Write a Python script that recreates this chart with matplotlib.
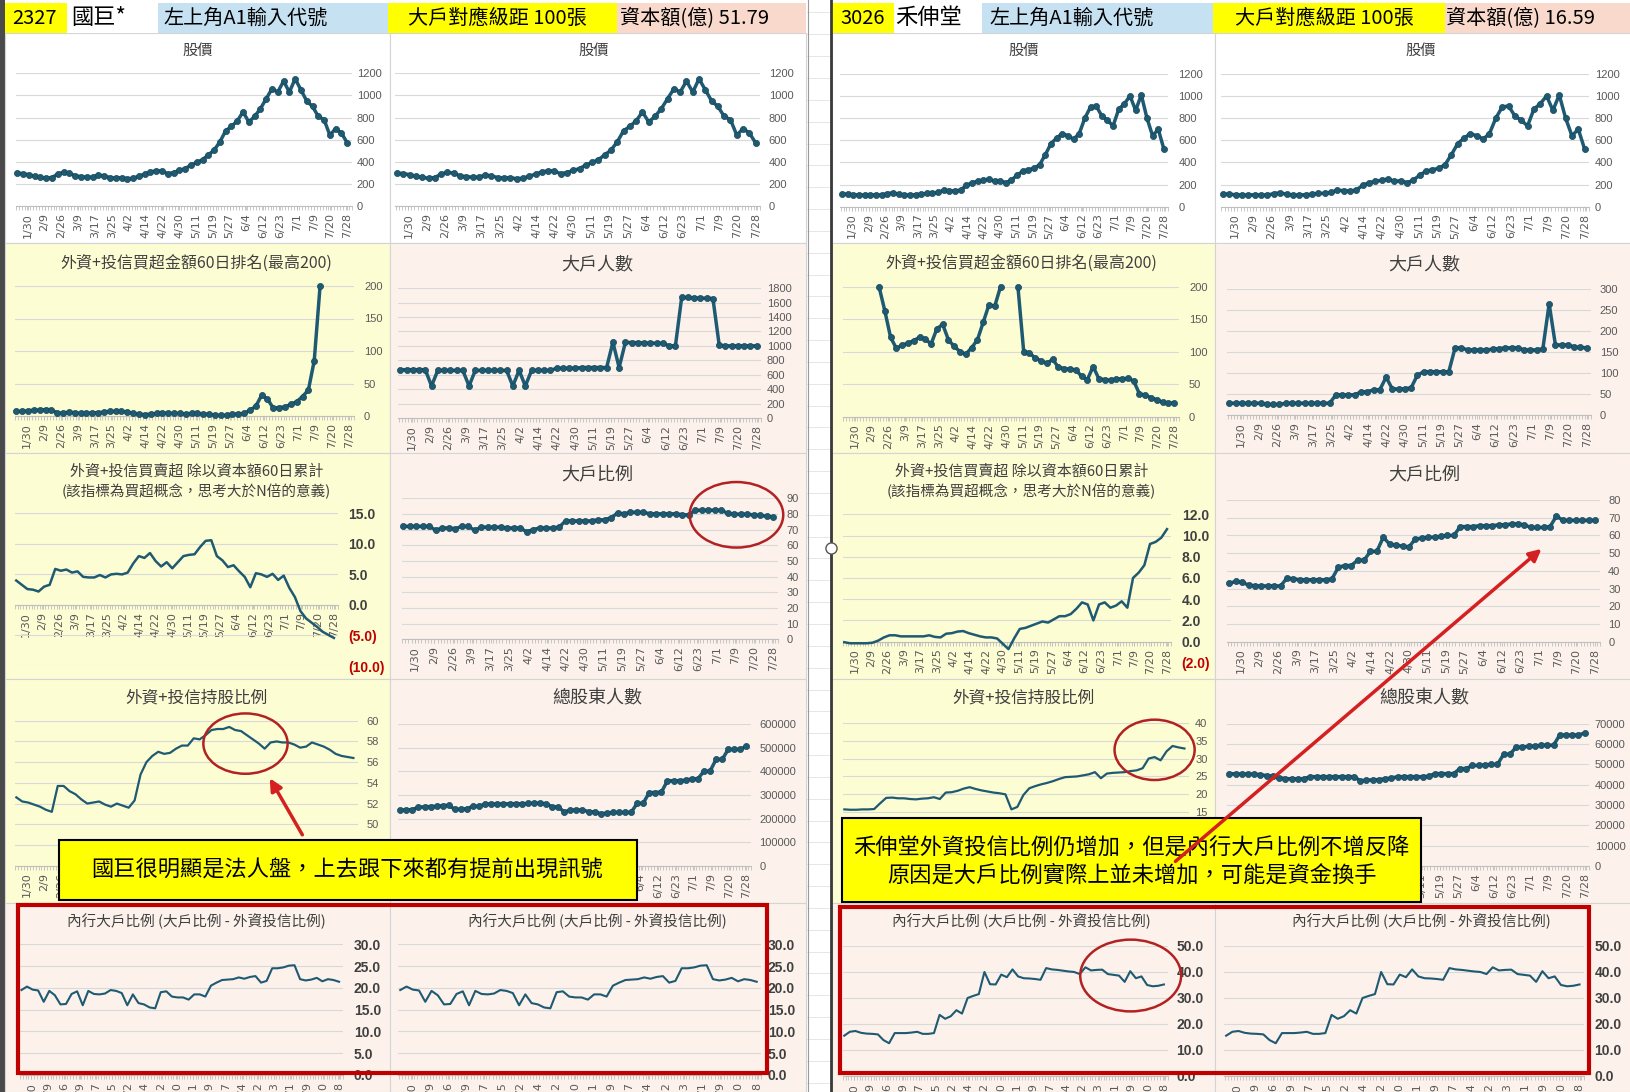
import numpy as np
import matplotlib
matplotlib.use('Agg')
import matplotlib.pyplot as plt
from matplotlib.patches import Rectangle, Ellipse, FancyArrowPatch
from matplotlib.lines import Line2D
from matplotlib import font_manager as fm

_names = {f.name for f in fm.fontManager.ttflist}
CJK = 'Noto Sans CJK TC'
NUM = 'Liberation Sans Narrow' if 'Liberation Sans Narrow' in _names else 'Liberation Sans'
plt.rcParams['font.family'] = [CJK, 'DejaVu Sans']

nan = float('nan')

# ---------------- data ----------------
DATES = ['1/30', '2/9', '2/26', '3/9', '3/17', '3/25', '4/2', '4/14', '4/22', '4/30',
         '5/11', '5/19', '5/27', '6/4', '6/12', '6/23', '7/1', '7/9', '7/20', '7/28']

# 2327 國巨
gk_price = [295, 293, 282, 268, 258, 250, 257, 288, 305, 295,
            272, 265, 260, 260, 279, 272, 256, 252, 256, 246,
            250, 268, 288, 307, 318, 316, 290, 302, 322, 338,
            370, 393, 418, 462, 505, 580, 680, 720, 770, 850,
            760, 810, 880, 970, 1060, 1030, 1130, 1030, 1150, 1050,
            950, 900, 810, 780, 640, 700, 660, 570]
gk_rank = [7, 7, 8, 9, 9, 10, 9, 5, 4, 6,
           5, 4, 4, 5, 5, 6, 7, 7, 7, 6,
           4, 3, 2, 3, 4, 5, 4, 4, 4, 3,
           4, 4, 3, 3, 1, 1, 1, 3, 3, 4,
           9, 15, 32, 26, 12, 13, 14, 18, 22, 30,
           40, 85, 200, nan, nan, nan, nan, nan]
gk_big_n = [670, 670, 670, 670, 670, 445, 660, 660, 660, 660,
            660, 445, 660, 660, 660, 660, 660, 660, 445, 660,
            445, 660, 660, 660, 660, 690, 690, 690, 690, 700,
            700, 700, 700, 700, 1050, 700, 1050, 1045, 1045, 1040,
            1040, 1035, 1035, 1000, 1000, 1670, 1670, 1665, 1660, 1660,
            1655, 1010, 1000, 1000, 1000, 1000, 1000, 1000]
gk_cum = [4.0, 3.3, 2.6, 2.5, 2.2, 3.0, 3.3, 5.9, 5.6, 5.8,
          5.3, 5.5, 4.6, 4.5, 4.5, 4.9, 4.5, 5.0, 5.1, 5.0,
          5.3, 6.8, 8.0, 7.7, 8.5, 7.2, 6.3, 7.0, 6.0, 7.0,
          8.0, 8.2, 8.3, 9.5, 10.5, 10.6, 8.0, 7.3, 6.2, 6.5,
          5.5, 4.6, 2.9, 5.2, 5.0, 4.6, 5.1, 4.1, 4.8, 2.8,
          1.3, -1.0, -2.2, -2.9, -3.6, -4.4, -4.9, -5.4]
gk_ratio = [72, 72, 72, 72, 72, 69.5, 71, 71, 70.5, 72,
            72, 69.5, 71.5, 71.5, 71.5, 71.5, 71, 71, 71, 68.5,
            70, 71, 71, 71, 71.5, 75.5, 75.5, 75.5, 75.5, 75.5,
            76.2, 76.2, 77.5, 80.5, 80, 81, 81, 81, 80, 80,
            80, 80, 80, 79.4, 79.4, 82.3, 82.3, 82.3, 82.3, 82.3,
            80.3, 79.8, 79.8, 79.8, 79.3, 79, 78.5, 78]
gk_hold = [52.6, 52.2, 52.1, 51.9, 51.7, 51.4, 51.2, 53.7, 53.7, 53.2,
           52.9, 52.4, 52.0, 52.1, 52.2, 51.9, 51.7, 52.0, 51.8, 51.6,
           52.3, 54.8, 56.0, 56.6, 57.0, 56.8, 56.9, 57.3, 57.6, 57.6,
           58.3, 58.2, 58.6, 59.1, 59.2, 59.2, 59.4, 59.1, 59.0, 58.6,
           58.2, 57.8, 57.3, 57.9, 58.0, 57.9, 57.9, 57.7, 57.4, 57.5,
           57.9, 57.7, 57.5, 57.2, 56.8, 56.6, 56.5, 56.4]
gk_holders = [236000, 237000, 238000, 248000, 250000, 251000, 252000, 255000, 256000, 239000,
              240000, 242000, 252000, 252000, 262000, 262000, 262000, 262000, 263000, 263000,
              262000, 264000, 265000, 265000, 263000, 250000, 250000, 228000, 236000, 237000,
              236000, 230000, 228000, 221000, 223000, 226000, 226000, 226000, 226000, 264000,
              265000, 310000, 310000, 312000, 360000, 360000, 360000, 362000, 368000, 368000,
              400000, 400000, 450000, 450000, 492000, 492000, 493000, 505000]
gk_insider = [19.5, 20.3, 19.6, 19.4, 16.8, 19.3, 18.3, 16.2, 16.3, 18.6,
              19.2, 16.0, 19.3, 18.6, 18.5, 18.7, 19.5, 19.3, 18.8, 16.0,
              18.5, 16.5, 16.2, 15.5, 15.3, 19.0, 19.2, 18.0, 17.8, 17.8,
              17.3, 18.5, 18.5, 18.0, 20.5, 21.2, 21.8, 21.9, 22.0, 22.4,
              22.1, 22.5, 22.7, 21.2, 21.6, 24.5, 24.5, 24.7, 25.1, 25.2,
              22.0, 21.7, 21.9, 22.3, 21.5, 22.0, 21.8, 21.4]

# 3026 禾伸堂
hs_price = [115, 112, 108, 105, 105, 108, 105, 105, 118, 125,
            112, 106, 105, 108, 112, 120, 120, 128, 148, 145,
            140, 150, 192, 215, 230, 238, 250, 228, 235, 215,
            240, 285, 320, 335, 345, 380, 470, 570, 620, 660,
            640, 610, 660, 800, 900, 910, 820, 780, 730, 880,
            930, 1000, 870, 1010, 800, 640, 700, 520]
hs_rank = [nan, nan, nan, nan, nan, nan, 200, 163, 122, 105,
           110, 113, 117, 122, 119, 112, 135, 142, 118, 108,
           100, 96, 106, 118, 145, 172, 170, 200, nan, nan,
           200, 100, 98, 90, 86, 82, 88, 76, 74, 73,
           72, 62, 57, 77, 58, 57, 56, 58, 58, 59,
           55, 35, 33, 29, 26, 22, 21, 21]
hs_big_n = [28, 28, 28, 28, 28, 28, 25, 25, 25, 28,
            28, 28, 28, 28, 28, 28, 28, 48, 48, 48,
            48, 55, 55, 60, 60, 90, 62, 62, 62, 65,
            95, 103, 103, 103, 103, 103, 160, 160, 155, 155,
            155, 155, 157, 158, 160, 160, 160, 155, 155, 155,
            158, 265, 167, 167, 167, 162, 161, 160]
hs_cum = [-0.05, -0.15, -0.15, -0.15, -0.15, -0.1, 0.1, 0.4, 0.6, 0.6,
          0.5, 0.5, 0.5, 0.5, 0.5, 0.6, 0.45, 0.4, 0.75, 0.8,
          0.95, 1.0, 0.8, 0.65, 0.5, 0.4, 0.4, 0.3, -0.2, -0.7,
          0.3, 1.2, 1.3, 1.5, 1.7, 1.9, 1.8, 2.1, 2.4, 2.4,
          2.6, 3.1, 3.7, 3.5, 2.0, 3.5, 3.7, 3.2, 3.4, 3.8,
          3.2, 6.0, 6.5, 7.2, 9.2, 9.4, 9.8, 10.6]
hs_ratio = [33, 34, 33.5, 32, 31.5, 31.5, 31.5, 31.5, 31.5, 36,
            35.5, 35, 35, 35, 35, 35, 35.5, 42, 43, 43,
            46, 46, 51, 51, 59, 55, 54.5, 54, 53.5, 58,
            58.5, 59, 59, 59.5, 60, 60, 65, 65, 65, 65.5,
            65.5, 65.5, 66, 66, 66.5, 66.5, 66, 64.5, 64.5, 64.5,
            65, 71, 68.5, 68.5, 68.5, 68.5, 68.5, 68.5]
hs_hold = [15.8, 15.7, 15.7, 15.8, 15.8, 15.9, 17.5, 19.0, 19.1, 18.9,
           18.9, 18.7, 18.6, 18.8, 18.9, 19.2, 18.7, 20.5, 20.6, 21.0,
           21.6, 22.0, 21.5, 21.1, 20.8, 20.5, 20.3, 20.0, 15.8, 16.5,
           19.8, 21.7, 22.3, 22.8, 23.2, 23.7, 24.3, 24.8, 24.9, 25.0,
           25.3, 25.6, 26.2, 24.5, 25.8, 26.0, 26.1, 26.2, 26.5, 26.7,
           27.3, 30.0, 30.4, 29.5, 32.0, 33.5, 33.1, 32.8]
hs_holders = [45500, 45400, 45300, 45300, 45200, 45000, 44500, 44300, 43500, 43000,
              43000, 42900, 43000, 44000, 44000, 44000, 44000, 44000, 44000, 44000,
              44000, 42000, 42200, 42500, 42500, 43000, 43300, 44000, 44000, 44000,
              44000, 44000, 44200, 45500, 45500, 45500, 45500, 48000, 48000, 49500,
              49500, 49800, 50000, 50000, 55000, 55000, 58500, 58500, 59000, 59000,
              59500, 59500, 59500, 64500, 64500, 64500, 64500, 65500]
hs_insider = [15.5, 17.0, 17.3, 16.6, 16.3, 16.2, 16.0, 13.8, 12.6, 16.5,
              16.5, 16.5, 16.7, 17.0, 16.2, 16.2, 16.5, 23.5, 22.0, 23.0,
              25.3, 24.0, 30.0, 30.8, 31.5, 40.0, 35.3, 35.2, 39.0, 38.0,
              41.0, 38.3, 37.6, 37.5, 37.3, 37.0, 41.5, 41.0, 40.8, 40.5,
              40.2, 40.0, 39.2, 41.8, 40.6, 40.8, 40.9, 39.2, 38.9, 38.6,
              36.2, 40.3, 37.6, 38.3, 35.0, 34.5, 34.7, 35.2]

# ---------------- layout helpers ----------------
W, H = 1568.0, 1050.0
LINE = '#1F5A73'
LINE_D = '#174759'
YEL = '#FDFDD3'
PNK = '#FCF2EB'
GRID = '#D9D9D9'

fig = plt.figure(figsize=(16.31, 10.92), dpi=100)
fig.patch.set_facecolor('white')


def F(x, y):
    return (x / W, 1 - y / H)


def box(x0, y0, x1, y1, fc, ec='none', lw=0.0, z=-10):
    fig.add_artist(Rectangle(F(x0, y1), (x1 - x0) / W, (y1 - y0) / H,
                             transform=fig.transFigure, fc=fc, ec=ec, lw=lw, zorder=z))


def text(x, y, s, fs, ha='center', color='#404040', z=5, **kw):
    fig.text(x / W, 1 - y / H, s, fontsize=fs, ha=ha, va='center', color=color, zorder=z, **kw)


def fmt_int(t):
    return f'{int(round(t))}'


def fmt_dec(t):
    return f'({abs(t):.1f})' if t < -1e-9 else f'{t:.1f}'


def chart(bx, series, ylo, yhi, step, fmt=fmt_int, marker=True, bold=False, zero=False,
          pad=8, lw=1.6):
    x0, y0, x1, y1 = bx
    ax = fig.add_axes([x0 / W, 1 - y1 / H, (x1 - x0) / W, (y1 - y0) / H])
    ax.set_facecolor('none')
    ys = np.array(series, dtype=float)
    n = len(ys)
    xs = np.arange(n)
    if marker:
        ax.plot(xs, ys, color=LINE, lw=2.5, marker='o', ms=4.4, mfc=LINE, mec=LINE_D,
                mew=0.5, zorder=3, clip_on=False)
    else:
        ax.plot(xs, ys, color=LINE, lw=lw, zorder=3, clip_on=False, solid_joinstyle='round')
    ax.set_xlim(-0.3, n - 0.7)
    ax.set_ylim(ylo, yhi)
    ticks = np.arange(ylo, yhi + step * 0.5, step)
    ax.set_yticks(ticks)
    ax.set_yticklabels([fmt(t) for t in ticks])
    ax.yaxis.tick_right()
    ax.tick_params(axis='y', length=0, pad=pad * 0.75)
    for lab, t in zip(ax.get_yticklabels(), ticks):
        lab.set_fontfamily(NUM)
        if bold:
            lab.set_fontweight('bold')
            lab.set_fontsize(10)
            lab.set_color('#C00000' if t < -1e-9 else '#404040')
        else:
            lab.set_fontsize(8)
            lab.set_color('#595959')
    ax.grid(axis='y', color=GRID, lw=0.8)
    ax.set_axisbelow(True)
    for s in ('left', 'right', 'top'):
        ax.spines[s].set_visible(False)
    ax.spines['bottom'].set_color('#BFBFBF')
    ax.spines['bottom'].set_linewidth(0.8)
    if zero:
        ax.spines['bottom'].set_position(('data', 0))
    ax.set_xticks(np.linspace(1.8, n - 1, len(DATES)))
    ax.set_xticklabels(DATES, rotation=90, fontsize=8, color='#595959', fontfamily='DejaVu Sans')
    ax.set_xticks(np.arange(-0.25, n, 0.5), minor=True)
    ax.tick_params(axis='x', which='both', length=3, width=0.6, color='#BFBFBF', pad=2)
    return ax


# ---------------- backgrounds ----------------
box(0, 0, 5, H, '#4A4A4A')
rows = [(32, 234), (234, 436), (436, 653), (653, 868), (868, 1050)]
for (c0, c1) in [((5, 375), (375, 775)), ((800, 1168), (1168, 1568))]:
    for i, (r0, r1) in enumerate(rows):
        lc = 'white' if i == 0 else (PNK if i == 4 else YEL)
        rc = 'white' if i == 0 else PNK
        box(c0[0], r0, c0[1], r1, lc, ec='#D4D4D4', lw=0.8)
        box(c1[0], r0, c1[1], r1, rc, ec='#D4D4D4', lw=0.8)

# spreadsheet gap between panels
for yy in np.arange(12, 1050, 21):
    fig.add_artist(Line2D([776 / W, 798 / W], [1 - yy / H] * 2, transform=fig.transFigure,
                          color='#E2E2E2', lw=0.6, zorder=-9))
fig.add_artist(Line2D([777 / W] * 2, [0, 1], transform=fig.transFigure, color='#9A9A9A', lw=0.8, zorder=-8))

# headers
box(5, 3, 64, 32, '#FFFF00')
box(64, 3, 152, 32, 'white')
box(152, 3, 373, 32, '#C6E2F2')
box(373, 3, 593, 32, '#FFFF00')
box(593, 3, 775, 32, '#F9D9CC')
text(12, 18, '2327', 14.5, ha='left', color='black')
text(68, 17, '國巨*', 16, ha='left', color='black')
text(157, 18, '左上角A1輸入代號', 14.5, ha='left', color='black')
text(392, 18, '大戶對應級距 100張', 14.5, ha='left', color='black')
text(596, 18, '資本額(億) 51.79', 14.5, ha='left', color='black')

box(800, 3, 859, 32, '#FFFF00')
box(859, 3, 944, 32, 'white')
box(944, 3, 1166, 32, '#C6E2F2')
box(1166, 3, 1389, 32, '#FFFF00')
box(1389, 3, 1568, 32, '#F9D9CC')
text(808, 18, '3026', 14.5, ha='left', color='black')
text(861, 17, '禾伸堂', 16, ha='left', color='black')
text(951, 18, '左上角A1輸入代號', 14.5, ha='left', color='black')
text(1187, 18, '大戶對應級距 100張', 14.5, ha='left', color='black')
text(1390, 18, '資本額(億) 16.59', 14.5, ha='left', color='black')

# ---------------- charts: 國巨 ----------------
chart((15, 70.5, 338, 198), gk_price, 0, 1200, 200, pad=5)
chart((380, 70.5, 731, 198), gk_price, 0, 1200, 200, pad=8)
chart((14, 275, 340, 400), gk_rank, 0, 200, 50, pad=10)
chart((383, 277, 732, 402), gk_big_n, 0, 1800, 200, pad=5)
chart((14, 493.6, 325, 640.4), gk_cum, -10, 15, 5, fmt=fmt_dec, marker=False, bold=True,
      zero=True, pad=10, lw=1.8)
chart((386, 479, 748, 614.7), gk_ratio, 0, 90, 10, pad=8)
chart((14, 693, 344, 832.4), gk_hold, 46, 60, 2, marker=False, pad=8, lw=1.6)
chart((383, 696, 722, 832.7), gk_holders, 0, 600000, 100000, pad=8)
chart((19, 908, 330, 1033.6), gk_insider, 0, 30, 5, fmt=fmt_dec, marker=False, bold=True, pad=10, lw=1.5)
chart((383, 908, 732, 1033.6), gk_insider, 0, 30, 5, fmt=fmt_dec, marker=False, bold=True, pad=6, lw=1.5)

text(190, 48, '股價', 11)
text(571, 48, '股價', 11)
text(189, 253, '外資+投信買超金額60日排名(最高200)', 11.5)
text(574, 254, '大戶人數', 13)
text(189, 453.5, '外資+投信買賣超 除以資本額60日累計', 10.8)
text(189, 472.5, '(該指標為買超概念，思考大於N倍的意義)', 10.5)
text(574, 456, '大戶比例', 13)
text(189, 671, '外資+投信持股比例', 12)
text(574, 672, '總股東人數', 13)
text(189, 886, '內行大戶比例 (大戶比例 - 外資投信比例)', 10.5)
text(574, 886, '內行大戶比例 (大戶比例 - 外資投信比例)', 10.5)

# ---------------- charts: 禾伸堂 ----------------
chart((808, 71, 1123, 198.7), hs_price, 0, 1200, 200, pad=10)
chart((1174, 71, 1528, 198.7), hs_price, 0, 1200, 200, pad=5)
chart((810, 275.6, 1133, 400.6), hs_rank, 0, 200, 50, pad=10)
chart((1180, 278, 1530, 399), hs_big_n, 0, 300, 50, pad=8)
chart((810, 494.5, 1126, 637.4), hs_cum, -2, 12, 2, fmt=fmt_dec, marker=False, bold=True,
      zero=True, pad=10, lw=1.8)
chart((1180, 480.8, 1538, 617), hs_ratio, 0, 80, 10, pad=8)
chart((810, 694.9, 1143, 832.7), hs_hold, 0, 40, 5, marker=False, pad=6, lw=1.6)
chart((1180, 696, 1528, 832.7), hs_holders, 0, 70000, 10000, pad=5)
chart((810, 909.6, 1123, 1034.6), hs_insider, 0, 50, 10, fmt=fmt_dec, marker=False, bold=True, pad=8, lw=1.5)
chart((1177, 909.6, 1523, 1034.6), hs_insider, 0, 50, 10, fmt=fmt_dec, marker=False, bold=True, pad=10, lw=1.5)

text(984, 48, '股價', 11)
text(1366, 48, '股價', 11)
text(982, 253, '外資+投信買超金額60日排名(最高200)', 11.5)
text(1369, 254, '大戶人數', 13)
text(982, 453.5, '外資+投信買賣超 除以資本額60日累計', 10.8)
text(982, 472.5, '(該指標為買超概念，思考大於N倍的意義)', 10.5)
text(1369, 456, '大戶比例', 13)
text(984, 671, '外資+投信持股比例', 12)
text(1369, 672, '總股東人數', 13)
text(982, 886, '內行大戶比例 (大戶比例 - 外資投信比例)', 10.5)
text(1366, 886, '內行大戶比例 (大戶比例 - 外資投信比例)', 10.5)

# ---------------- annotations ----------------
def ell(cx, cy, w, h):
    fig.add_artist(Ellipse(F(cx, cy), w / W, h / H, transform=fig.transFigure, fill=False,
                           ec='#B22222', lw=1.8, zorder=9))


def arrow(xa, ya, xb, yb):
    fig.add_artist(FancyArrowPatch(F(xa, ya), F(xb, yb), transform=fig.transFigure,
                                   arrowstyle='-|>', mutation_scale=18, color='#D42020',
                                   lw=2.5, zorder=12))


box(17, 870, 737, 1032, 'none', ec='#C00000', lw=3, z=9)
box(808, 872, 1528, 1032, 'none', ec='#C00000', lw=3, z=9)

ell(708, 495, 90, 63)
ell(236, 715, 81, 58)
ell(1110, 721, 77, 58)
ell(1087, 938, 97, 69)

box(57, 808, 612, 865, '#FFFF00', ec='black', lw=1.5, z=10)
text(334, 837, '國巨很明顯是法人盤，上去跟下來都有提前出現訊號', 16, color='black', z=11)
box(809, 787, 1366, 867, '#FFFF00', ec='black', lw=1.5, z=10)
text(1088, 815, '禾伸堂外資投信比例仍增加，但是內行大戶比例不增反降', 16, color='black', z=11)
text(1088, 841, '原因是大戶比例實際上並未增加，可能是資金換手', 16, color='black', z=11)

arrow(292, 805, 258, 746)
arrow(1128, 830, 1484, 526)

# right panel selection frame
fig.add_artist(Line2D([799 / W] * 2, [0, 1], transform=fig.transFigure, color='#3A3A3A', lw=2, zorder=8))
fig.add_artist(Line2D([799 / W], [1 - 527 / H], marker='o', ms=8, mfc='white', mec='#555555',
                      transform=fig.transFigure, zorder=9))

fig.savefig('out.png', dpi=100)
